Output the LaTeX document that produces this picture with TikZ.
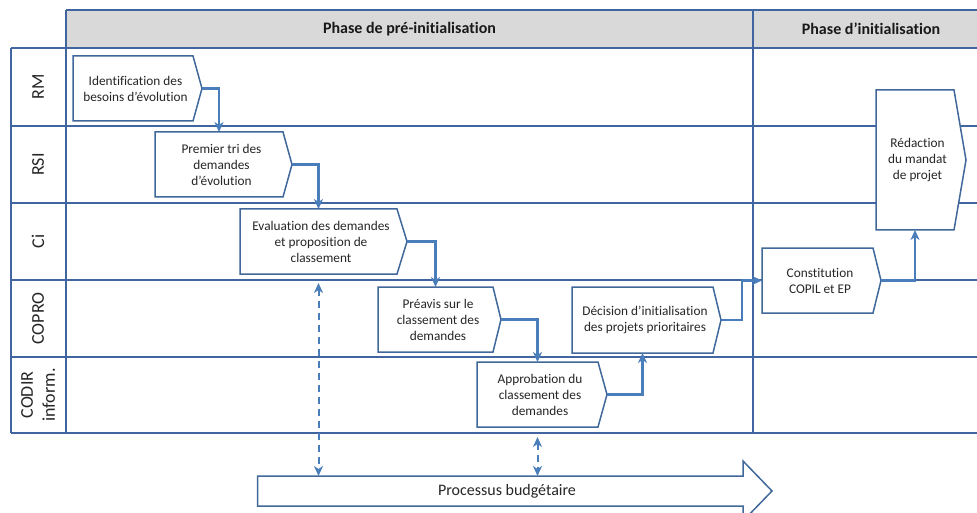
\documentclass[tikz,border=0pt]{standalone}
\usepackage{fontspec}
\setmainfont{Carlito}[Ligatures=NoCommon]
\usetikzlibrary{arrows.meta,calc}
\definecolor{laneblue}{HTML}{4065A0}
\definecolor{connblue}{HTML}{4A7EBB}
\definecolor{boxblue}{HTML}{41689A}
\definecolor{headgray}{HTML}{D9D9D9}
\tikzset{
  laneline/.style={draw=laneblue, line width=1.5pt},
  boxnode/.style={inner sep=0pt, outer sep=0pt, align=center, font=\fontsize{13.3}{16}\selectfont, text=black!85},
  boxline/.style={draw=boxblue, line width=1.5pt, line join=miter, fill=white},
  conn/.style={draw=connblue, line width=2.2pt, -{Stealth[length=10pt,width=9pt,inset=3pt]}},
  dconn/.style={draw=connblue, line width=2pt, dash pattern=on 7pt off 5pt, {Stealth[length=10pt,width=9pt,inset=3pt]}-{Stealth[length=10pt,width=9pt,inset=3pt]}},
  lanelabel/.style={rotate=90, align=center, font=\fontsize{18}{22}\selectfont, text=black!85},
  headtext/.style={font=\bfseries\fontsize{16}{18}\selectfont, text=black!90},
}
\newcommand{\chevnode}[7]{% name, cx, cy, w, h, depth, text
  \node[boxnode, minimum width=#4pt, minimum height=#5pt] (#1) at (#2,#3) {};
  \draw[boxline] (#1.north west) -- (#1.north east) -- ([xshift=#6pt]#1.east) -- (#1.south east) -- (#1.south west) -- cycle;
  \node[boxnode] (#1-text) at ([xshift=2.5pt]#1.center) {#7};
  \coordinate (#1-tip) at ([xshift=#6pt]#1.east);
}
\begin{document}
\begin{tikzpicture}[x=1pt, y=-1pt]
\clip (0,0) rectangle (977,513);
\fill[white] (0,0) rectangle (977,513);
% header
\fill[headgray] (66,10) rectangle (990,48);
\draw[laneline] (66,10) -- (990,10);
% horizontal lane lines
\foreach \yy in {48,126,203,280,357,433} {
  \draw[laneline] (11,\yy) -- (990,\yy);
}
% vertical lines
\draw[laneline] (11,48) -- (11,433);
\draw[laneline] (66,10) -- (66,433);
\draw[laneline] (753,10) -- (753,433);
% header texts
\node[headtext] (h1) at (409.5,29) {Phase de pré-initialisation};
\node[headtext] (h2) at (871,29) {Phase d’initialisation};
% lane labels
\node[lanelabel] (lRM) at (38,87) {RM};
\node[lanelabel] (lRSI) at (38,164.5) {RSI};
\node[lanelabel] (lCi) at (38,241.5) {Ci};
\node[lanelabel] (lCOPRO) at (38,318.5) {COPRO};
\node[lanelabel] (lCODIR) at (38,395) {CODIR\\inform.};
% boxes
\chevnode{b1}{133}{88.5}{120}{65}{9}{Identification des\\besoins d’évolution}
\chevnode{b2}{219}{164.5}{128}{65}{9}{Premier tri des\\demandes\\d’évolution}
\chevnode{b3}{318.5}{241.5}{157}{65}{10}{Evaluation des demandes\\et proposition de\\classement}
\chevnode{b4}{435.5}{319.5}{115}{65}{8}{Préavis sur le\\classement des\\demandes}
\chevnode{b5}{537.5}{394.5}{121}{65}{9}{Approbation du\\classement des\\demandes}
\chevnode{b6}{642.5}{320}{141}{66}{8}{Décision d’initialisation\\des projets prioritaires}
\chevnode{b7}{817.5}{280.5}{111}{65}{8}{Constitution\\COPIL et EP}
\chevnode{b8}{915}{160}{78}{140}{12}{Rédaction\\du mandat\\de projet}
% connectors
\draw[conn] (b1-tip) -| (b2.north);
\draw[conn] (b2-tip) -| (b3.north);
\draw[conn] (b3-tip) -| (b4.north);
\draw[conn] (b4-tip) -| (b5.north);
\draw[conn] (b5-tip) -| (b6.south);
\draw[conn] (b6-tip) -- ++(21,0) |- (b7.west);
\draw[conn] (b7-tip) -| (b8.south);
% budget arrow
\draw[boxline] (257.5,476) -- (743,476) -- (743,461) -- (772,491) -- (743,521) -- (743,506) -- (257.5,506) -- cycle;
\node[font=\fontsize{16}{18}\selectfont, text=black!85] (budget) at (507,491) {Processus budgétaire};
\coordinate (budtop) at (0,476);
% dashed links
\draw[dconn] ([yshift=-9pt]b3.south) -- (b3.south |- budtop);
\draw[dconn] ([yshift=-10pt]b5.south) -- (b5.south |- budtop);
\end{tikzpicture}
\end{document}
